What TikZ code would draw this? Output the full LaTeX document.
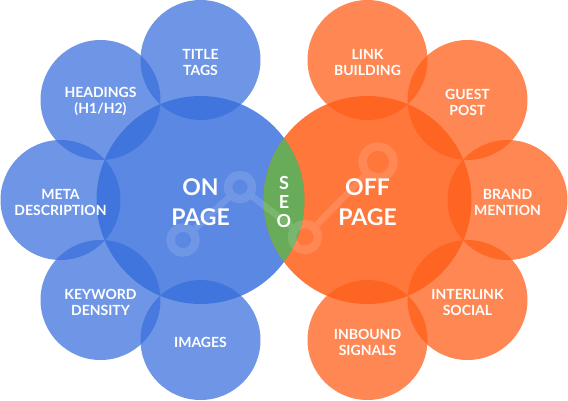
\documentclass[tikz,border=0pt]{standalone}
\usepackage{fontspec}
\setmainfont{Lato}
\usetikzlibrary{calc}
\definecolor{bluebase}{RGB}{55,110,220}
\definecolor{orangebase}{RGB}{255,95,25}
\definecolor{seogreen}{RGB}{104,172,90}
\begin{document}
\begin{tikzpicture}[x=1pt,y=-1pt,
  bub/.style={circle, inner sep=0pt, minimum size=120pt},
  bluebub/.style={bub, fill=bluebase, fill opacity=0.72},
  orangebub/.style={bub, fill=orangebase, fill opacity=0.75},
  bigbub/.style={circle, inner sep=0pt, minimum size=208pt},
  smalltxt/.style={text=white, align=center, font=\bfseries\fontsize{14}{16}\selectfont},
  bigtxt/.style={text=white, align=center, font=\bfseries\fontsize{23}{30}\selectfont},
  seotxt/.style={text=white, align=center, font=\bfseries\fontsize{18}{19}\selectfont},
  wmring/.style={draw=white, draw opacity=0.13, line width=8.5pt},
  wmline/.style={draw=white, draw opacity=0.13, line width=6.5pt}
]
\useasboundingbox (0,0) rectangle (568,400);
% big circles
\node[bigbub, fill=bluebase, fill opacity=0.82] (on) at (200.5,200) {};
\node[bigbub, fill=orangebase, fill opacity=0.85] (off) at (367.5,200) {};
% blue satellites
\node[bluebub] (title) at (200.5,60) {};
\node[bluebub] (head) at (100.5,100) {};
\node[bluebub] (meta) at (60.5,200) {};
\node[bluebub] (key) at (100.5,300) {};
\node[bluebub] (img) at (200.5,340) {};
% orange satellites
\node[orangebub] (link) at (367.5,60) {};
\node[orangebub] (guest) at (467.5,100) {};
\node[orangebub] (brand) at (507.5,200) {};
\node[orangebub] (inter) at (467.5,300) {};
\node[orangebub] (inb) at (367.5,340) {};
% SEO lens
\begin{scope}
  \clip (on.center) circle (104);
  \fill[seogreen] (off.center) circle (104);
\end{scope}
% watermark chart icon
\coordinate (w1) at (183,240);
\coordinate (w2) at (240,187);
\coordinate (w3) at (305,237);
\coordinate (w4) at (378,162);
\draw[wmring] (w1) circle (12.5);
\draw[wmring] (w2) circle (12);
\draw[wmring] (w3) circle (13);
\draw[wmring] (w4) circle (15.5);
\draw[wmline] ($(w1)!17pt!(w2)$) -- ($(w2)!16pt!(w1)$);
\draw[wmline] ($(w2)!16pt!(w3)$) -- ($(w3)!17.5pt!(w2)$);
\draw[wmline] ($(w3)!17.5pt!(w4)$) -- ($(w4)!20pt!(w3)$);
% labels
\node[bigtxt] (onlab) at (200.5,202) {ON\\PAGE};
\node[bigtxt] (offlab) at (367.5,202) {OFF\\PAGE};
\node[seotxt] (seolab) at (284,202) {S\\E\\O};
\node[smalltxt] (titlelab) at ([yshift=-2pt]title) {TITLE\\TAGS};
\node[smalltxt] (headlab) at ([yshift=-1pt]head) {HEADINGS\\(H1/H2)};
\node[smalltxt] (metalab) at ([yshift=-2pt]meta) {META\\DESCRIPTION};
\node[smalltxt] (keylab) at ([yshift=-2pt]key) {KEYWORD\\DENSITY};
\node[smalltxt] (imglab) at ([yshift=-2pt]img) {IMAGES};
\node[smalltxt] (linklab) at ([yshift=-2pt]link) {LINK\\BUILDING};
\node[smalltxt] (guestlab) at ([yshift=-2pt]guest) {GUEST\\POST};
\node[smalltxt] (brandlab) at ([yshift=-2pt]brand) {BRAND\\MENTION};
\node[smalltxt] (interlab) at ([yshift=-2pt]inter) {INTERLINK\\SOCIAL};
\node[smalltxt] (inblab) at ([yshift=-2pt]inb) {INBOUND\\SIGNALS};
\end{tikzpicture}
\end{document}
